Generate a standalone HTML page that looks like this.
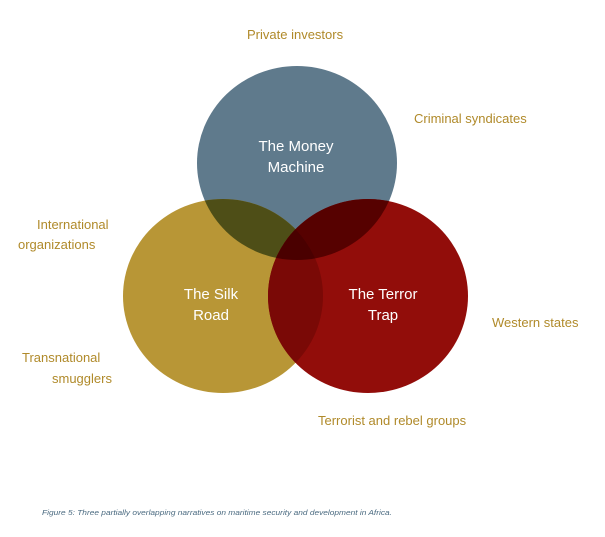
<!DOCTYPE html>
<html><head><style>
body{margin:0;background:#fff;width:605px;height:532px;overflow:hidden}
svg text{font-family:"Liberation Sans",sans-serif}
</style></head><body>
<svg width="605" height="532" xmlns="http://www.w3.org/2000/svg">
<defs>
<clipPath id="cb"><ellipse cx="297" cy="163" rx="100" ry="97"/></clipPath>
<clipPath id="cg"><ellipse cx="223" cy="296" rx="100" ry="97"/></clipPath>
<clipPath id="cr"><ellipse cx="368" cy="296" rx="100" ry="97"/></clipPath>
</defs>
<ellipse cx="297" cy="163" rx="100" ry="97" fill="#5f7a8c"/>
<ellipse cx="223" cy="296" rx="100" ry="97" fill="#b89636"/>
<ellipse cx="368" cy="296" rx="100" ry="97" fill="#920d0a"/>
<g clip-path="url(#cb)"><ellipse cx="223" cy="296" rx="100" ry="97" fill="#4e4e17"/><ellipse cx="368" cy="296" rx="100" ry="97" fill="#560100"/></g>
<g clip-path="url(#cg)"><ellipse cx="368" cy="296" rx="100" ry="97" fill="#7a0906"/></g>
<g clip-path="url(#cb)"><g clip-path="url(#cg)"><ellipse cx="368" cy="296" rx="100" ry="97" fill="#4a0000"/></g></g>
<g fill="#fff" font-size="15" text-anchor="middle">
<text x="296" y="151">The Money</text><text x="296" y="172">Machine</text>
<text x="211" y="299">The Silk</text><text x="211" y="320">Road</text>
<text x="383" y="299">The Terror</text><text x="383" y="320">Trap</text>
</g>
<g fill="#b08a2a" font-size="13">
<text x="247" y="39">Private investors</text>
<text x="414" y="123">Criminal syndicates</text>
<text x="37" y="229">International</text>
<text x="18" y="249">organizations</text>
<text x="492" y="327">Western states</text>
<text x="22" y="362">Transnational</text>
<text x="52" y="383">smugglers</text>
<text x="318" y="425">Terrorist and rebel groups</text>
</g>
<text x="42" y="515" font-size="7.5" font-style="italic" fill="#4a6a80" textLength="350" lengthAdjust="spacingAndGlyphs">Figure 5: Three partially overlapping narratives on maritime security and development in Africa.</text>
</svg>
</body></html>
